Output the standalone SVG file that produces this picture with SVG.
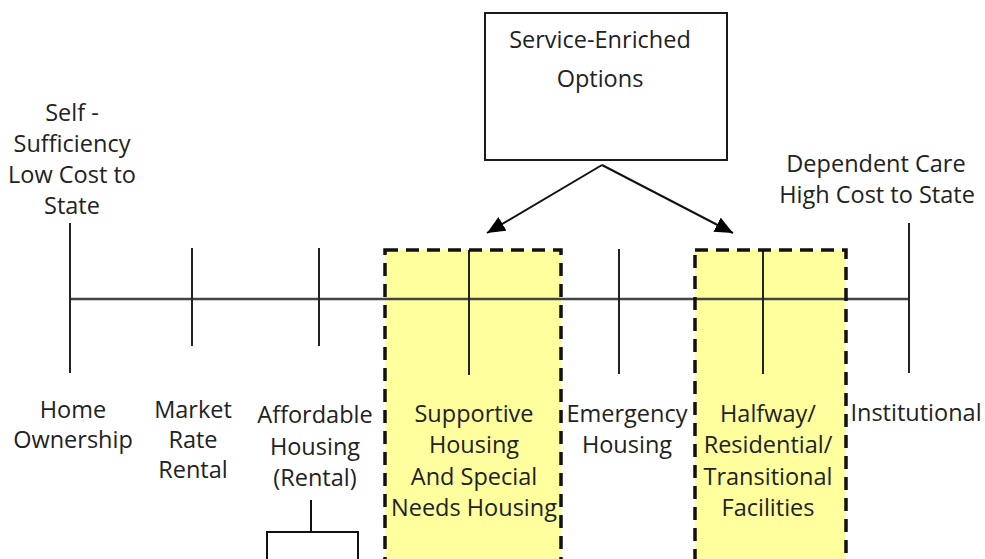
<svg xmlns="http://www.w3.org/2000/svg" width="985" height="559" viewBox="0 0 985 559">
  <defs>
    <style>
      text { font-family: "Open Sans", "Liberation Sans", sans-serif; font-size: 23.5px; fill: #222; text-anchor: middle; }
      .tick { stroke: #222; stroke-width: 2; fill: none; }
      .axis { stroke: #444; stroke-width: 2.5; fill: none; }
      .band { fill: #ffff9e; stroke: none; }
      .band-edge { fill: none; stroke: #111; stroke-width: 3.5; stroke-dasharray: 13 8; }
      .box { fill: #fff; stroke: #1a1a1a; stroke-width: 2; }
      .conn { stroke: #111; stroke-width: 2; fill: none; }
    </style>
    <marker id="arrow" markerUnits="userSpaceOnUse" markerWidth="20" markerHeight="16" refX="18" refY="8" orient="auto">
      <path d="M0,0 L18,8 L0,16 Z" fill="#000"/>
    </marker>
  </defs>

  <!-- highlighted bands behind the scale -->
  <rect class="band" x="385" y="250" width="176" height="320"/>
  <rect class="band" x="695" y="250" width="151" height="320"/>

  <!-- continuum axis and tick marks -->
  <g id="scale">
    <line class="axis" x1="70" y1="299" x2="909" y2="299"/>
    <line class="tick" x1="70" y1="223" x2="70" y2="373"/>
    <line class="tick" x1="192" y1="248" x2="192" y2="346"/>
    <line class="tick" x1="319" y1="248" x2="319" y2="346"/>
    <line class="tick" x1="469" y1="250" x2="469" y2="375"/>
    <line class="tick" x1="619" y1="249" x2="619" y2="374"/>
    <line class="tick" x1="763" y1="250" x2="763" y2="374"/>
    <line class="tick" x1="909" y1="223" x2="909" y2="373"/>
  </g>

  <!-- dashed outlines of the bands -->
  <rect class="band-edge" x="385" y="250" width="176" height="320"/>
  <rect class="band-edge" x="695" y="250" width="151" height="320"/>

  <!-- end labels -->
  <g id="self-sufficiency">
    <text x="72" y="121">Self -</text>
    <text x="72" y="152">Sufficiency</text>
    <text x="72" y="183">Low Cost to</text>
    <text x="72" y="214">State</text>
  </g>
  <g id="dependent-care">
    <text x="876" y="172">Dependent Care</text>
    <text x="877" y="203">High Cost to State</text>
  </g>

  <!-- service-enriched options -->
  <g id="service-enriched">
    <rect class="box" x="485" y="13" width="242" height="147"/>
    <text x="600" y="48">Service-Enriched</text>
    <text x="600" y="87">Options</text>
  </g>

  <!-- housing categories -->
  <g id="home-ownership">
    <text x="73" y="418">Home</text>
    <text x="73" y="448">Ownership</text>
  </g>
  <g id="market-rate-rental">
    <text x="193" y="418">Market</text>
    <text x="193" y="448">Rate</text>
    <text x="193" y="478">Rental</text>
  </g>
  <g id="affordable-housing">
    <text x="315" y="423">Affordable</text>
    <text x="315" y="455">Housing</text>
    <text x="315" y="486">(Rental)</text>
  </g>
  <g id="supportive-housing">
    <text x="474" y="422">Supportive</text>
    <text x="474" y="453">Housing</text>
    <text x="474" y="485">And  Special</text>
    <text x="474" y="516">Needs Housing</text>
  </g>
  <g id="emergency-housing">
    <text x="627" y="422">Emergency</text>
    <text x="627" y="453">Housing</text>
  </g>
  <g id="halfway">
    <text x="768" y="422">Halfway/</text>
    <text x="768" y="453">Residential/</text>
    <text x="768" y="485">Transitional</text>
    <text x="768" y="516">Facilities</text>
  </g>
  <g id="institutional">
    <text x="916" y="421">Institutional</text>
  </g>

  <!-- connectors -->
  <g id="connectors">
    <line class="conn" x1="602" y1="165" x2="487" y2="233" marker-end="url(#arrow)"/>
    <line class="conn" x1="602" y1="165" x2="733" y2="233" marker-end="url(#arrow)"/>
    <path class="conn" d="M311,500 V532 M267,570 V532 H358 V570"/>
  </g>
</svg>
